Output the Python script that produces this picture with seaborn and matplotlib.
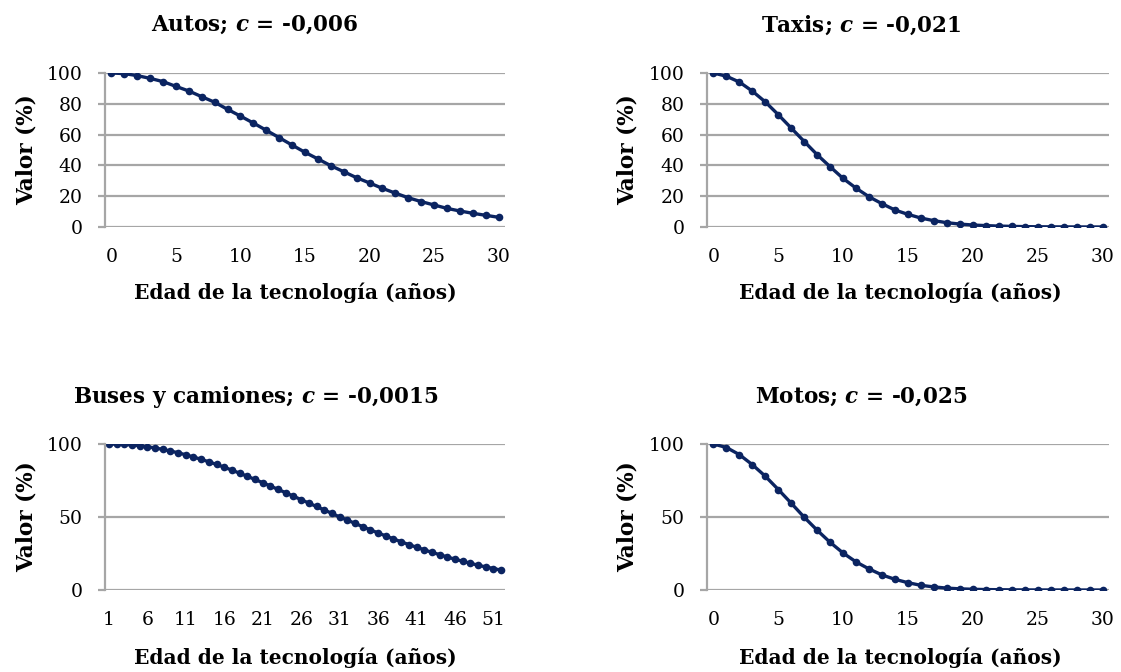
import seaborn as sns
import matplotlib.pyplot as plt
import pandas as pd
import numpy as np

# DATA
edad_30 = list(range(0, 31))
edad_buses = list(range(1, 53))

autos = [100, 99.6, 98.3, 96.5, 94.4, 91.3, 88.3, 84.6, 81.0, 76.4, 72.0,
         67.5, 62.8, 58.0, 53.2, 48.5, 44.2, 39.8, 35.9, 32.0, 28.6,
         25.1, 22.0, 19.0, 16.5, 14.3, 12.1, 10.4, 8.9, 7.6, 6.3]
taxis = [100, 97.9, 94.1, 88.2, 81.2, 72.9, 64.2, 55.5, 46.9, 39.1, 31.5,
         25.2, 19.6, 15.1, 11.0, 8.2, 5.8, 4.1, 2.8, 1.9, 1.3,
         0.9, 0.6, 0.4, 0.25, 0.15, 0.1, 0.06, 0.04, 0.02, 0.01]
buses = [100, 99.9, 99.7, 99.3, 98.8, 98.1, 97.3, 96.3, 95.2, 94.0,
         92.6, 91.1, 89.5, 87.8, 86.0, 84.1, 82.1, 80.0, 77.9, 75.7,
         73.5, 71.2, 68.9, 66.6, 64.2, 61.9, 59.5, 57.2, 54.8, 52.5,
         50.0, 47.9, 45.6, 43.4, 41.2, 39.1, 37.0, 35.0, 33.0, 31.1,
         29.3, 27.5, 25.8, 24.2, 22.6, 21.1, 19.7, 18.3, 17.0, 15.8,
         14.7, 13.6]
motos = [100, 97.6, 92.7, 85.8, 77.9, 68.8, 59.4, 49.8, 40.9, 32.6, 25.3,
         19.2, 14.4, 10.3, 7.3, 5.0, 3.2, 2.1, 1.3, 0.8, 0.5,
         0.3, 0.2, 0.1, 0.06, 0.03, 0.02, 0.01, 0.0, 0.0, 0.0]

titulos = ['Autos', 'Taxis', 'Buses y camiones', 'Motos']
coefs = ['-0,006', '-0,021', '-0,0015', '-0,025']

# VISUALIZATION
sns.set_theme(style='white')
plt.rcParams['font.family'] = ['DejaVu Serif']
plt.rcParams['mathtext.fontset'] = 'custom'
plt.rcParams['mathtext.it'] = 'DejaVu Serif:italic:bold'
plt.rcParams['mathtext.rm'] = 'DejaVu Serif:bold'

W, H = 1121, 672
fig = plt.figure(figsize=(W / 100, H / 100), dpi=100)

navy = '#0B2461'
grid_c = '#A6A6A6'


def px_axes(left, right, top, bottom):
    return fig.add_axes([left / W, 1 - bottom / H, (right - left) / W, (bottom - top) / H])


# series, box (left, right, top, bottom) px, y ticks, title pos, xlabel pos, ylabel x
paneles = [
    (edad_30, autos, (105, 505, 73, 227), [0, 20, 40, 60, 80, 100], (255, 25), (295, 293), 27),
    (edad_30, taxis, (707, 1109, 73, 227), [0, 20, 40, 60, 80, 100], (861, 25), (900, 293), 628),
    (edad_buses, buses, (105, 505, 444, 590), [0, 50, 100], (256, 397), (295, 658), 27),
    (edad_30, motos, (707, 1109, 444, 590), [0, 50, 100], (861, 397), (900, 658), 628),
]

for i, (x, y, box, yt, tpos, xlpos, ylx) in enumerate(paneles):
    ax = px_axes(*box)
    df = pd.DataFrame({'Edad': x, 'Valor': y})
    sns.lineplot(data=df, x='Edad', y='Valor', ax=ax, color=navy, linewidth=2.4,
                 marker='o', markersize=5.5, markeredgewidth=0, markerfacecolor=navy)
    n = len(x)
    ax.set_xlim(x[0] - 0.5, x[0] + n - 0.5)
    ax.set_ylim(0, 100)
    ax.set_yticks(yt)
    ax.set_xticks(x[::5])
    ax.set_xticklabels([str(v) for v in x[::5]])
    ax.set_xlabel('')
    ax.set_ylabel('')
    for s in ['top', 'right', 'bottom']:
        ax.spines[s].set_visible(False)
    ax.spines['left'].set_color(grid_c)
    ax.spines['left'].set_linewidth(1.6)
    ax.yaxis.grid(True, color=grid_c, linewidth=1.6)
    ax.set_axisbelow(True)
    ax.tick_params(axis='y', which='major', left=True, length=5, width=1.6, color=grid_c,
                   pad=11, labelsize=13.5, labelcolor='black')
    ax.tick_params(axis='x', which='major', bottom=False, pad=9, labelsize=13.5, labelcolor='black')

    fig.text(tpos[0] / W, 1 - tpos[1] / H, titulos[i] + '; $c$ = ' + coefs[i],
             ha='center', va='center', fontsize=15.5, fontweight='bold', color='black')
    fig.text(xlpos[0] / W, 1 - xlpos[1] / H, 'Edad de la tecnología (años)',
             ha='center', va='center', fontsize=14.5, fontweight='bold', color='black')
    fig.text(ylx / W, 1 - ((box[2] + box[3]) / 2) / H, 'Valor (%)', rotation=90,
             ha='center', va='center', fontsize=15.5, fontweight='bold', color='black')

fig.savefig('out.png', dpi=100, facecolor='white')
